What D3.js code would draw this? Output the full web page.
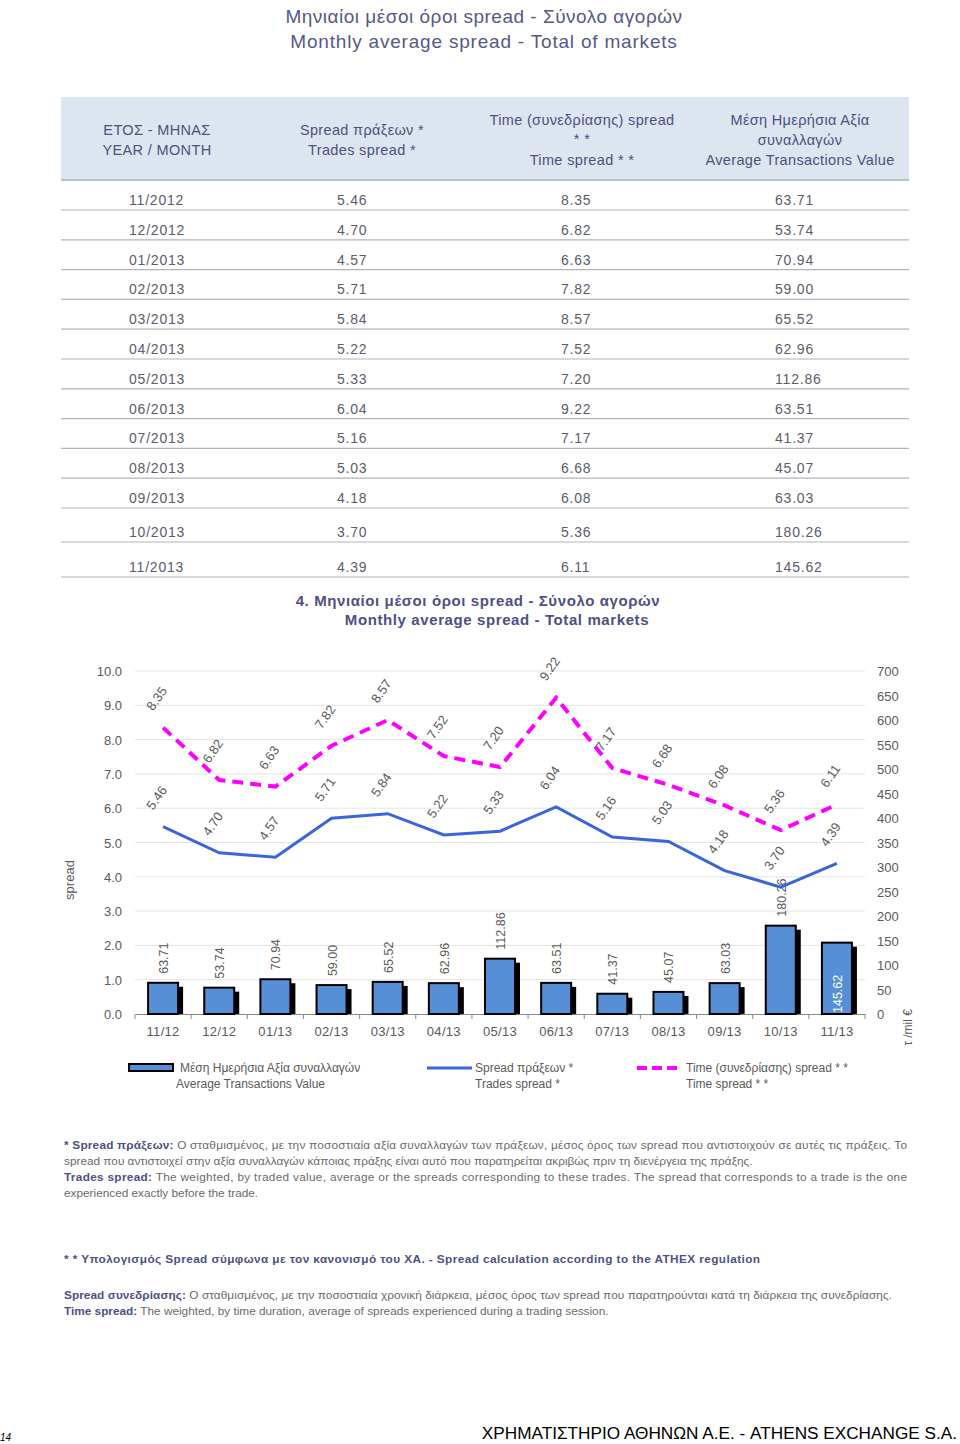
<!DOCTYPE html>
<html>
<head>
<meta charset="utf-8">
<script src="https://cdn.jsdelivr.net/npm/d3@7"></script>
<style>
  body { margin: 0; background: #fff; }
  svg text { font-family: "Liberation Sans", Arial, sans-serif; }
</style>
</head>
<body>
<script>
// dati
var months = ["11/2012","12/2012","01/2013","02/2013","03/2013","04/2013","05/2013","06/2013","07/2013","08/2013","09/2013","10/2013","11/2013"];
var monthTicks = ["11/12","12/12","01/13","02/13","03/13","04/13","05/13","06/13","07/13","08/13","09/13","10/13","11/13"];
var tradesSpread = [5.46,4.70,4.57,5.71,5.84,5.22,5.33,6.04,5.16,5.03,4.18,3.70,4.39];
var timeSpread = [8.35,6.82,6.63,7.82,8.57,7.52,7.20,9.22,7.17,6.68,6.08,5.36,6.11];
var avgValue = [63.71,53.74,70.94,59.00,65.52,62.96,112.86,63.51,41.37,45.07,63.03,180.26,145.62];
var leftTicks = [0,1,2,3,4,5,6,7,8,9,10];
var rightTicks = [0,50,100,150,200,250,300,350,400,450,500,550,600,650,700];

var width = 960, height = 1444;
var titleColor = "#55598a", textGray = "#5c5c6c", axisGray = "#5a5a5a";

var svg = d3.select("body").append("svg")
    .attr("width", width)
    .attr("height", height);

// titolo pagina
svg.append("text").attr("x", 484).attr("y", 23).attr("text-anchor", "middle")
  .style("font-size", "19px").style("fill", titleColor).style("letter-spacing", "0.5px")
  .text("Μηνιαίοι μέσοι όροι spread - Σύνολο αγορών");
svg.append("text").attr("x", 484).attr("y", 48).attr("text-anchor", "middle")
  .style("font-size", "19px").style("fill", titleColor).style("letter-spacing", "0.8px")
  .text("Monthly average spread - Total of markets");

// tabella
var tbl = {left: 61, right: 909, headTop: 97, headBottom: 180};
svg.append("rect").attr("x", tbl.left).attr("y", tbl.headTop)
  .attr("width", tbl.right - tbl.left).attr("height", tbl.headBottom - tbl.headTop)
  .style("fill", "#dde6f0");
svg.append("line").attr("x1", tbl.left).attr("x2", tbl.right)
  .attr("y1", tbl.headBottom).attr("y2", tbl.headBottom)
  .style("stroke", "#a9b0bd").style("stroke-width", 1.5);

var headers = [
  {x: 157, lines: [[135, "ΕΤΟΣ - ΜΗΝΑΣ"], [155, "YEAR / MONTH"]]},
  {x: 362, lines: [[135, "Spread πράξεων *"], [155, "Trades spread *"]]},
  {x: 582, lines: [[125, "Time  (συνεδρίασης) spread"], [144, "* *"], [165, "Time spread * *"]]},
  {x: 800, lines: [[125, "Μέση Ημερήσια Αξία"], [145, "συναλλαγών"], [165, "Average Transactions Value"]]}
];
headers.forEach(function(h) {
  h.lines.forEach(function(l) {
    svg.append("text").attr("x", h.x).attr("y", l[0]).attr("text-anchor", "middle")
      .style("font-size", "14.5px").style("fill", "#4d5080").style("letter-spacing", "0.35px")
      .text(l[1]);
  });
});

var rowY = months.map(function(m, i) { return i < 11 ? 205 + i * 29.8 : 537 + (i - 11) * 35; });
var colX = [129, 337, 561, 775];
months.forEach(function(m, i) {
  var vals = [m, tradesSpread[i].toFixed(2), timeSpread[i].toFixed(2), avgValue[i].toFixed(2)];
  vals.forEach(function(v, j) {
    svg.append("text").attr("x", colX[j]).attr("y", rowY[i])
      .style("font-size", "14px").style("fill", textGray).style("letter-spacing", "0.8px")
      .text(v);
  });
  svg.append("line").attr("x1", tbl.left).attr("x2", tbl.right)
    .attr("y1", rowY[i] + 5).attr("y2", rowY[i] + 5)
    .style("stroke", "#b4b4b8").style("stroke-width", 1.2);
});

// titolo grafico
svg.append("text").attr("x", 478).attr("y", 606).attr("text-anchor", "middle")
  .style("font-size", "15px").style("font-weight", "bold").style("fill", "#4d5087")
  .style("letter-spacing", "0.6px")
  .text("4.  Μηνιαίοι μέσοι όροι spread - Σύνολο αγορών");
svg.append("text").attr("x", 497).attr("y", 625).attr("text-anchor", "middle")
  .style("font-size", "15px").style("font-weight", "bold").style("fill", "#4d5087")
  .style("letter-spacing", "0.6px")
  .text("Monthly average spread - Total markets");

// grafico
svg.append("clipPath").attr("id", "chartClip")
  .append("rect").attr("x", 0).attr("y", 640).attr("width", 960).attr("height", 405);
var chart = svg.append("g").attr("clip-path", "url(#chartClip)");

var x = d3.scaleBand().domain(monthTicks).range([135, 865]);
var y = d3.scaleLinear().domain([0, 10]).range([1014, 671]);
var yR = d3.scaleLinear().domain([0, 700]).range([1014, 671]);

// griglia
chart.selectAll(".grid").data(leftTicks.slice(1)).enter().append("line")
  .attr("x1", 135).attr("x2", 865)
  .attr("y1", function(d) { return y(d); }).attr("y2", function(d) { return y(d); })
  .style("stroke", "#e4e4e4").style("stroke-width", 1);

// assi
var yAxis = d3.axisLeft(y).tickValues(leftTicks).tickFormat(d3.format(".1f")).tickSize(0).tickPadding(13);
var gy = chart.append("g").attr("transform", "translate(135,0)").call(yAxis);
gy.select(".domain").remove();
gy.selectAll("text").style("font-size", "13px").style("fill", axisGray).attr("dy", "0.35em");

var yRAxis = d3.axisRight(yR).tickValues(rightTicks).tickFormat(d3.format("d")).tickSize(0).tickPadding(12);
var gyr = chart.append("g").attr("transform", "translate(865,0)").call(yRAxis);
gyr.select(".domain").remove();
gyr.selectAll("text").style("font-size", "13px").style("fill", axisGray).attr("dy", "0.35em");

var xAxis = d3.axisBottom(x).tickSize(0).tickPadding(13);
var gx = chart.append("g").attr("transform", "translate(0,1014)").call(xAxis);
gx.select(".domain").style("stroke", "#8a8a8a");
gx.selectAll("text").style("font-size", "13px").style("fill", axisGray).style("letter-spacing", "0.3px");
gx.selectAll(".bound").data(d3.range(monthTicks.length + 1)).enter().append("line")
  .attr("x1", function(i) { return 135 + i * x.step(); })
  .attr("x2", function(i) { return 135 + i * x.step(); })
  .attr("y1", 0).attr("y2", 5)
  .style("stroke", "#8a8a8a");

chart.append("text").attr("transform", "translate(74,880) rotate(-90)")
  .attr("text-anchor", "middle").style("font-size", "13px").style("fill", axisGray)
  .text("spread");
chart.append("text").attr("transform", "translate(912,1064) rotate(-90)")
  .style("font-size", "12px").style("fill", axisGray)
  .text("εκατ /mil €");

// barre
var barW = 30;
var bars = chart.selectAll(".bar").data(avgValue).enter().append("g");
bars.append("rect")
  .attr("x", function(d, i) { return x(monthTicks[i]) + x.bandwidth() / 2 - barW / 2 + 5; })
  .attr("y", function(d) { return yR(d) + 4; })
  .attr("width", barW).attr("height", function(d) { return 1014 - yR(d) - 4; })
  .style("fill", "#000");
bars.append("rect")
  .attr("x", function(d, i) { return x(monthTicks[i]) + x.bandwidth() / 2 - barW / 2; })
  .attr("y", function(d) { return yR(d); })
  .attr("width", barW).attr("height", function(d) { return 1014 - yR(d); })
  .style("fill", "#578fd6").style("stroke", "#000").style("stroke-width", 2);
bars.append("text")
  .attr("transform", function(d, i) {
    var cx = x(monthTicks[i]) + x.bandwidth() / 2 + 5;
    var ty = i === avgValue.length - 1 ? 1013 : yR(d) - 9;
    return "translate(" + cx + "," + ty + ") rotate(-90)";
  })
  .style("font-size", "12.5px")
  .style("fill", function(d, i) { return i === avgValue.length - 1 ? "#fff" : "#5a5a5a"; })
  .text(function(d) { return d.toFixed(2); });

// linee
var line = d3.line()
  .x(function(d, i) { return x(monthTicks[i]) + x.bandwidth() / 2; })
  .y(function(d) { return y(d); });

chart.append("path").datum(tradesSpread).attr("d", line)
  .style("fill", "none").style("stroke", "#3a66dc").style("stroke-width", 3);
chart.append("path").datum(timeSpread).attr("d", line)
  .style("fill", "none").style("stroke", "#ff00ff").style("stroke-width", 4)
  .style("stroke-dasharray", "11,7");

function pointLabels(data) {
  chart.selectAll(null).data(data).enter().append("text")
    .attr("transform", function(d, i) {
      var cx = x(monthTicks[i]) + x.bandwidth() / 2;
      return "translate(" + (cx - 10) + "," + (y(d) - 16) + ") rotate(-55)";
    })
    .style("font-size", "13px").style("fill", "#5a5a5a")
    .text(function(d) { return d.toFixed(2); });
}
pointLabels(tradesSpread);
pointLabels(timeSpread);

// legenda
var leg = svg.append("g");
leg.append("rect").attr("x", 129).attr("y", 1064).attr("width", 44).attr("height", 7)
  .style("fill", "#578fd6").style("stroke", "#000").style("stroke-width", 2);
leg.append("line").attr("x1", 427).attr("x2", 472).attr("y1", 1068).attr("y2", 1068)
  .style("stroke", "#3a66dc").style("stroke-width", 3);
leg.append("line").attr("x1", 637).attr("x2", 681).attr("y1", 1068).attr("y2", 1068)
  .style("stroke", "#ff00ff").style("stroke-width", 4).style("stroke-dasharray", "10,5");
var legText = [
  [180, 1072, "Μέση Ημερήσια Αξία συναλλαγών"], [176, 1088, "Average Transactions Value"],
  [475, 1072, "Spread πράξεων *"], [475, 1088, "Trades spread *"],
  [686, 1072, "Time  (συνεδρίασης) spread * *"], [686, 1088, "Time spread * *"]
];
legText.forEach(function(t) {
  leg.append("text").attr("x", t[0]).attr("y", t[1])
    .style("font-size", "12px").style("fill", "#5a5a5a").text(t[2]);
});

// note
var noteFont = "'Liberation Sans Narrow', 'Liberation Sans', Arial, sans-serif";
function note(yy, parts, len) {
  var t = svg.append("text").attr("x", 64).attr("y", yy)
    .style("font-family", noteFont).style("font-size", "11.8px").style("fill", "#6a6a6a");
  if (len) t.attr("textLength", len).attr("lengthAdjust", "spacing");
  parts.forEach(function(p) {
    t.append("tspan").style("font-weight", p[1] ? "bold" : "normal")
      .style("fill", p[1] ? "#4d5087" : "#6a6a6a").text(p[0]);
  });
}
note(1149, [["* ", true], ["Spread πράξεων:", true], [" Ο σταθμισμένος, με την ποσοστιαία αξία συναλλαγών των πράξεων, μέσος όρος των spread που αντιστοιχούν σε αυτές τις πράξεις. Το", false]], 843);
note(1165, [["spread που αντιστοιχεί στην αξία συναλλαγών κάποιας πράξης είναι αυτό που παρατηρείται ακριβώς πριν τη διενέργεια της πράξης.", false]], 0);
note(1181, [["Trades spread:", true], [" The weighted, by traded value, average or the spreads corresponding to these trades. The spread that corresponds to a trade is the one", false]], 843);
note(1197, [["experienced exactly before the trade.", false]], 0);
note(1263, [["* *  Υπολογισμός Spread σύμφωνα με τον κανονισμό  του ΧΑ. - Spread calculation according to the ATHEX regulation", true]], 696);
note(1299, [["Spread συνεδρίασης:", true], [" Ο σταθμισμένος, με την ποσοστιαία χρονική διάρκεια, μέσος όρος των spread που παρατηρούνται κατά τη διάρκεια της συνεδρίασης.", false]], 828);
note(1315, [["Time spread:", true], [" The weighted, by time duration, average of spreads experienced during a trading session.", false]], 0);

// piè di pagina
svg.append("text").attr("x", 0).attr("y", 1441)
  .style("font-family", noteFont).style("font-size", "10px").style("font-style", "italic").style("fill", "#000")
  .text("14");
svg.append("text").attr("x", 957).attr("y", 1439).attr("text-anchor", "end")
  .style("font-family", noteFont).style("font-size", "17.2px").style("fill", "#000")
  .text("ΧΡΗΜΑΤΙΣΤΗΡΙΟ ΑΘΗΝΩΝ Α.Ε. - ATHENS EXCHANGE S.A.");
</script>
</body>
</html>
